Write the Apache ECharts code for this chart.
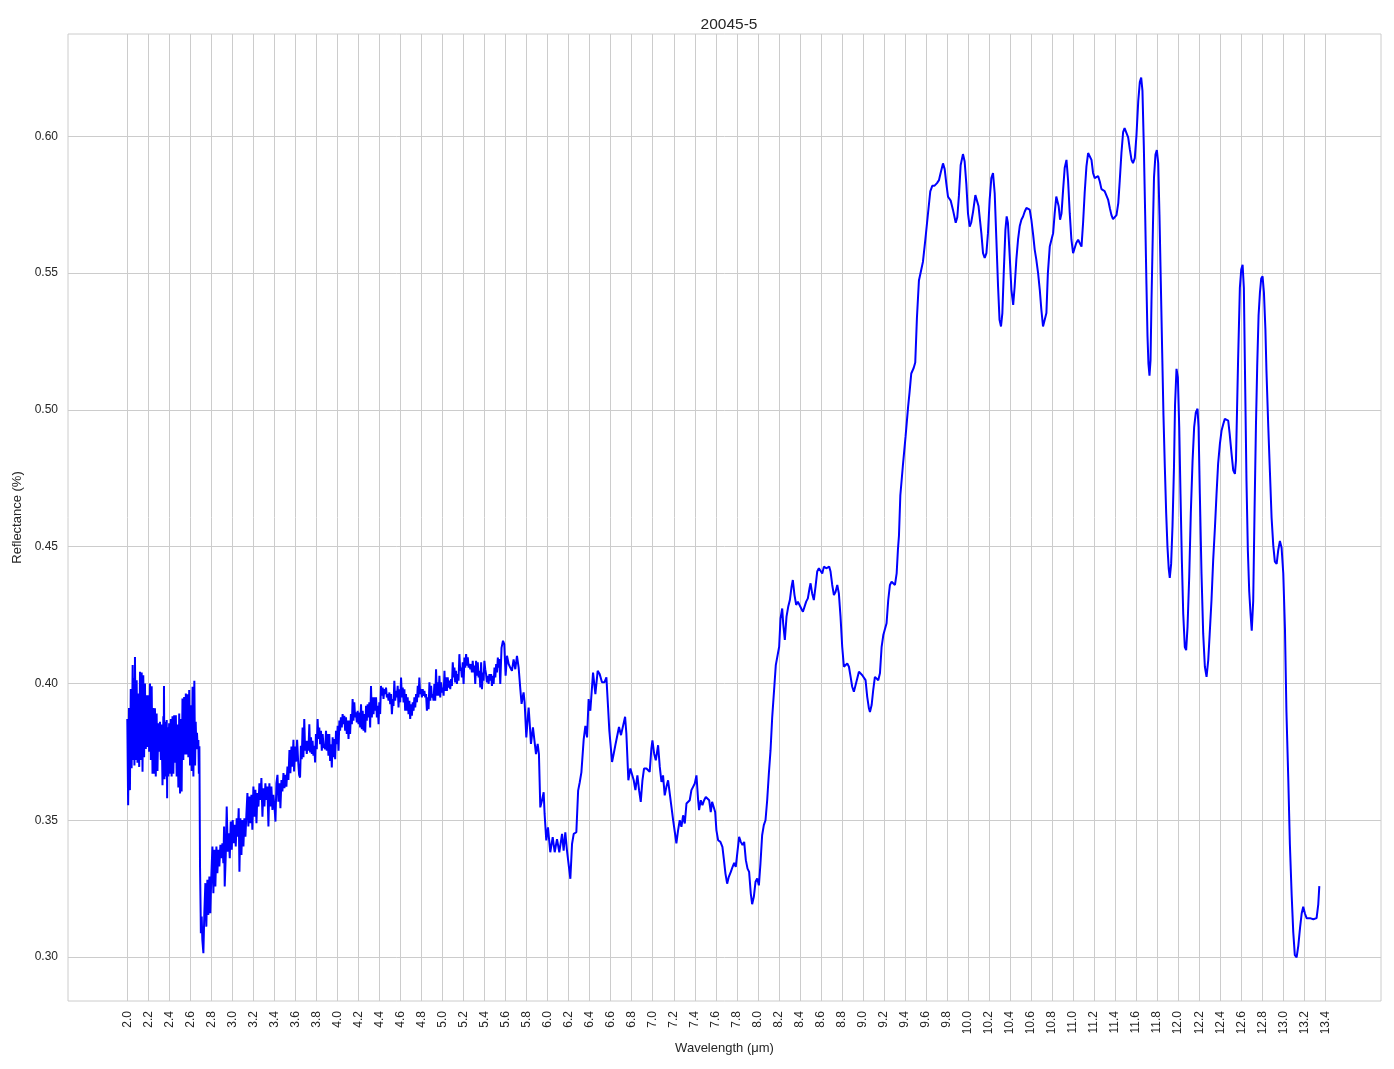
<!DOCTYPE html>
<html>
<head>
<meta charset="utf-8">
<script src="https://cdn.jsdelivr.net/npm/echarts@6/dist/echarts.min.js"></script>
<style>
html,body{margin:0;padding:0;background:#ffffff;}
#chart{width:1394px;height:1069px;}
</style>
</head>
<body>
<div id="chart"></div>
<script>
// ---- data (wavelength µm, reflectance) ----
const segNoisyA = [[2.000,0.387],[2.008,0.3555],[2.016,0.391],[2.025,0.361],[2.033,0.398],[2.041,0.369],[2.051,0.4067],[2.057,0.372],[2.063,0.402],[2.068,0.370],[2.073,0.4097],[2.081,0.372],[2.089,0.4012],[2.097,0.371],[2.105,0.3963],[2.113,0.3695],[2.121,0.4043],[2.129,0.372],[2.137,0.404],[2.145,0.3677],[2.152,0.403],[2.160,0.373],[2.168,0.400],[2.176,0.376],[2.184,0.3957],[2.192,0.3768],[2.200,0.3957],[2.208,0.375],[2.216,0.400],[2.224,0.372],[2.232,0.399],[2.240,0.367],[2.248,0.391],[2.256,0.367],[2.263,0.3909],[2.271,0.366],[2.279,0.389],[2.287,0.368],[2.295,0.3854],[2.303,0.375],[2.311,0.386],[2.319,0.372],[2.327,0.385],[2.335,0.3628],[2.343,0.388],[2.346,0.366],[2.349,0.3991],[2.354,0.365],[2.359,0.386],[2.367,0.366],[2.375,0.3866],[2.379,0.358],[2.383,0.384],[2.390,0.366],[2.398,0.3854],[2.406,0.367],[2.414,0.387],[2.422,0.366],[2.430,0.388],[2.438,0.367],[2.446,0.3884],[2.454,0.371],[2.462,0.3884],[2.470,0.366],[2.478,0.385],[2.486,0.362],[2.494,0.389],[2.502,0.3598],[2.510,0.387],[2.517,0.3605],[2.525,0.3945],[2.533,0.372],[2.541,0.395],[2.549,0.374],[2.557,0.3963],[2.565,0.374],[2.573,0.396],[2.581,0.373],[2.589,0.3976],[2.597,0.370],[2.605,0.392],[2.613,0.368],[2.621,0.3988],[2.629,0.366],[2.638,0.401],[2.645,0.370],[2.651,0.386],[2.657,0.376],[2.663,0.382],[2.670,0.376],[2.676,0.3793],[2.681,0.367],[2.686,0.377]];

const segDropB = [[2.692,0.333],[2.698,0.316],[2.700,0.3087],[2.708,0.3148],[2.714,0.3063],[2.724,0.3014],[2.733,0.316],[2.743,0.327],[2.752,0.3111],[2.762,0.3282],[2.771,0.3154],[2.781,0.3294],[2.790,0.316],[2.800,0.330],[2.810,0.3404],[2.819,0.3233],[2.829,0.3392],[2.838,0.3258],[2.848,0.3404],[2.857,0.3306],[2.867,0.3392],[2.876,0.3331],[2.886,0.341],[2.895,0.3361],[2.905,0.3416],[2.914,0.3343],[2.921,0.3477],[2.927,0.3258],[2.937,0.3373],[2.946,0.355],[2.956,0.3385],[2.965,0.3452],[2.975,0.3361],[2.984,0.3495],[2.994,0.3392],[3.003,0.3501],[3.013,0.3416],[3.022,0.3483],[3.032,0.3404],[3.041,0.3507],[3.051,0.344],[3.060,0.3544],[3.067,0.3312],[3.076,0.3507],[3.086,0.3373],[3.095,0.3501],[3.105,0.3404],[3.114,0.3507],[3.124,0.344],[3.133,0.3519],[3.143,0.3599],[3.152,0.3477],[3.162,0.3587],[3.171,0.3489],[3.181,0.3593],[3.190,0.3465],[3.200,0.3623],[3.210,0.3513],[3.219,0.3611],[3.229,0.3489],[3.238,0.3599],[3.248,0.355],[3.257,0.3635],[3.267,0.3574],[3.276,0.3654],[3.286,0.3513],[3.295,0.3617],[3.305,0.355],[3.314,0.3635],[3.324,0.3574],[3.333,0.3623],[3.343,0.3477],[3.352,0.3635],[3.362,0.355],[3.371,0.3623],[3.381,0.3538],[3.390,0.3593],[3.400,0.355],[3.410,0.3495],[3.419,0.3635],[3.429,0.3666],[3.438,0.3568],[3.448,0.3635],[3.457,0.3544],[3.467,0.3647],[3.476,0.3605],[3.486,0.3672],[3.495,0.3617],[3.505,0.3666],[3.514,0.3623],[3.524,0.3696],[3.533,0.3647],[3.543,0.3757],[3.552,0.3672],[3.562,0.3769],[3.571,0.3696],[3.581,0.3794],[3.587,0.3678],[3.597,0.3769],[3.606,0.3714],[3.616,0.3794],[3.625,0.3721],[3.635,0.3666]];

const segNoisyC = [[3.644,0.3656],[3.652,0.3772],[3.660,0.3723],[3.668,0.3839],[3.676,0.373],[3.684,0.387],[3.692,0.3754],[3.700,0.379],[3.708,0.3742],[3.716,0.379],[3.724,0.3754],[3.732,0.3851],[3.740,0.3748],[3.748,0.3803],[3.756,0.3742],[3.763,0.379],[3.771,0.3736],[3.779,0.3772],[3.787,0.3711],[3.795,0.3815],[3.803,0.376],[3.811,0.387],[3.819,0.3797],[3.827,0.3839],[3.835,0.3778],[3.843,0.3827],[3.851,0.3754],[3.859,0.3815],[3.867,0.3772],[3.875,0.3778],[3.883,0.376],[3.891,0.3827],[3.898,0.3754],[3.906,0.3815],[3.914,0.3736],[3.922,0.3815],[3.930,0.3717],[3.938,0.3778],[3.946,0.3693],[3.954,0.3803],[3.962,0.373],[3.970,0.3797],[3.978,0.3723],[3.986,0.3827],[3.994,0.3778],[4.002,0.3845],[4.010,0.3754],[4.018,0.3864],[4.025,0.3827],[4.033,0.3876],[4.041,0.3839],[4.049,0.3888],[4.057,0.3851],[4.065,0.3882],[4.073,0.3827],[4.081,0.3876],[4.089,0.3815],[4.097,0.3864],[4.105,0.3797],[4.113,0.3864],[4.120,0.3815],[4.128,0.3888],[4.137,0.3851],[4.144,0.3943],[4.152,0.3864],[4.160,0.3931],[4.168,0.3876],[4.176,0.3894],[4.184,0.3858],[4.192,0.3900],[4.200,0.3851],[4.208,0.3894],[4.216,0.3839],[4.224,0.3924],[4.232,0.3833],[4.240,0.3900],[4.248,0.3827],[4.256,0.3888],[4.264,0.3821],[4.272,0.3918],[4.279,0.3864],[4.287,0.3924],[4.295,0.3876],[4.303,0.3931],[4.311,0.3839],[4.319,0.3991],[4.327,0.3876],[4.335,0.3949],[4.343,0.3888],[4.351,0.3949],[4.359,0.3900],[4.367,0.3949],[4.375,0.3876],[4.383,0.3918],[4.391,0.3851],[4.398,0.3931],[4.406,0.3888],[4.414,0.3991],[4.422,0.3955],[4.430,0.3985],[4.438,0.3943],[4.446,0.3979],[4.454,0.3961],[4.462,0.3985],[4.470,0.3949],[4.478,0.3961],[4.486,0.3937],[4.494,0.3967],[4.502,0.3924],[4.510,0.3961],[4.518,0.3888],[4.526,0.3943],[4.533,0.3918],[4.541,0.401],[4.549,0.3937],[4.557,0.3973],[4.565,0.3949],[4.573,0.3991],[4.581,0.3912],[4.589,0.3979],[4.597,0.3931],[4.605,0.4022],[4.613,0.3949],[4.621,0.3985],[4.629,0.3931],[4.637,0.3979],[4.644,0.39],[4.652,0.3961],[4.660,0.39],[4.668,0.3949],[4.676,0.3888],[4.684,0.3937],[4.692,0.387],[4.700,0.3924],[4.708,0.3882],[4.716,0.3931],[4.724,0.39],[4.732,0.3949],[4.740,0.3912],[4.748,0.3961],[4.756,0.3931],[4.764,0.3991],[4.771,0.3949],[4.779,0.4022],[4.787,0.3961],[4.795,0.3979],[4.803,0.3949],[4.811,0.3979],[4.819,0.3955],[4.827,0.3973],[4.835,0.3949],[4.843,0.3961],[4.851,0.39],[4.859,0.3949],[4.867,0.3906],[4.875,0.4004],[4.883,0.3937],[4.891,0.3991],[4.898,0.3949],[4.906,0.3961],[4.914,0.3937],[4.922,0.3998],[4.930,0.3937],[4.938,0.4052],[4.946,0.3955],[4.954,0.4004],[4.962,0.3955],[4.970,0.4028],[4.978,0.3949],[4.986,0.4004],[4.994,0.3967],[5.002,0.3985],[5.010,0.3955],[5.018,0.4046],[5.025,0.3973],[5.033,0.4022],[5.041,0.3973],[5.049,0.4022],[5.057,0.3985],[5.065,0.401],[5.073,0.3979],[5.081,0.4016],[5.089,0.3991],[5.097,0.4077],[5.105,0.4022],[5.113,0.4058],[5.120,0.4004],[5.128,0.4046],[5.137,0.3998],[5.144,0.4034],[5.152,0.401],[5.160,0.4107],[5.168,0.4046],[5.176,0.4058],[5.184,0.4022],[5.192,0.4077],[5.200,0.3998],[5.208,0.4095],[5.216,0.4058],[5.224,0.4107],[5.232,0.4065],[5.240,0.4095],[5.248,0.4058],[5.256,0.4071],[5.264,0.4052],[5.272,0.4071],[5.279,0.404],[5.287,0.4083],[5.295,0.404],[5.303,0.4065],[5.311,0.3998],[5.319,0.4083],[5.327,0.4028],[5.335,0.4077],[5.343,0.4022],[5.351,0.4046],[5.359,0.3985],[5.367,0.4077],[5.375,0.3979],[5.383,0.4040],[5.390,0.401],[5.398,0.4083],[5.406,0.4052],[5.414,0.4034],[5.422,0.4004],[5.430,0.4028],[5.438,0.3998],[5.446,0.4034],[5.454,0.401],[5.462,0.4034],[5.470,0.3991],[5.478,0.4028],[5.486,0.3998],[5.494,0.4058],[5.502,0.4022],[5.510,0.4071],[5.518,0.404],[5.526,0.4095],[5.533,0.4058],[5.541,0.4089],[5.549,0.3998]];

const segMidD = [[5.561,0.4130],[5.575,0.4156],[5.587,0.4144],[5.600,0.4028],[5.613,0.4101],[5.629,0.4071],[5.644,0.4058],[5.660,0.4046],[5.676,0.4088],[5.692,0.4052],[5.708,0.4101],[5.724,0.4058],[5.740,0.3979],[5.752,0.3925],[5.762,0.3950],[5.771,0.3967],[5.781,0.3930],[5.797,0.3803],[5.810,0.3870],[5.819,0.3912],[5.830,0.3850],[5.841,0.3779],[5.860,0.3839],[5.876,0.3839],[5.889,0.3742],[5.905,0.3779],[5.917,0.3742],[5.930,0.3547],[5.946,0.3572],[5.962,0.3602],[5.971,0.3523],[5.987,0.3426],[6.003,0.3474],[6.025,0.3383],[6.048,0.3438],[6.067,0.3383],[6.089,0.3431],[6.111,0.3383],[6.137,0.3450],[6.152,0.3389],[6.168,0.3456],[6.184,0.3389],[6.200,0.3383],[6.216,0.3286],[6.232,0.3413],[6.248,0.3450],[6.273,0.3456],[6.290,0.3608],[6.305,0.3638],[6.321,0.3675],[6.343,0.3796],[6.359,0.3845],[6.375,0.3803],[6.390,0.3943],[6.406,0.3900],[6.432,0.4040],[6.454,0.3961],[6.476,0.4046],[6.495,0.4034],[6.517,0.4004],[6.540,0.4004],[6.559,0.4022],[6.575,0.3912],[6.587,0.3827],[6.613,0.3713],[6.629,0.3744],[6.644,0.3774],[6.660,0.3780],[6.679,0.3841],[6.698,0.3811],[6.717,0.3811],[6.737,0.3878],[6.749,0.3817],[6.768,0.3646],[6.787,0.3689],[6.806,0.3683],[6.819,0.3646],[6.835,0.3610],[6.854,0.3664],[6.870,0.3610],[6.886,0.3567],[6.902,0.3646],[6.917,0.3689],[6.940,0.3689],[6.956,0.3689],[6.971,0.3677],[6.987,0.3762],[6.997,0.3792],[7.013,0.3744],[7.029,0.3719],[7.051,0.3774],[7.067,0.3695],[7.083,0.3640],[7.098,0.3664],[7.114,0.3591],[7.130,0.3622],[7.146,0.3646],[7.162,0.3597],[7.178,0.3549],[7.194,0.3500],[7.210,0.3457],[7.225,0.3415],[7.241,0.3463],[7.257,0.3500],[7.273,0.3476],[7.289,0.3518],[7.305,0.3488],[7.321,0.3561],[7.337,0.3567],[7.352,0.3573],[7.368,0.3610],[7.384,0.3622],[7.400,0.3634],[7.416,0.3664],[7.432,0.3573],[7.441,0.3537],[7.457,0.3573],[7.473,0.3555],[7.489,0.3573],[7.505,0.3585],[7.521,0.3585],[7.537,0.3573],[7.552,0.3530],[7.565,0.3567],[7.581,0.3573],[7.594,0.3530],[7.606,0.3463],[7.622,0.3427],[7.644,0.3421],[7.663,0.3403],[7.676,0.3360],[7.692,0.3305],[7.708,0.3268],[7.724,0.3293],[7.743,0.3311],[7.759,0.3329],[7.775,0.3344],[7.790,0.3329],[7.806,0.3384],[7.822,0.3439],[7.838,0.3421],[7.854,0.3409],[7.870,0.3421],[7.886,0.3354],[7.902,0.3323],[7.917,0.3311],[7.933,0.3232],[7.946,0.3193],[7.962,0.3220],[7.978,0.3275],[7.994,0.3287],[8.010,0.3262],[8.025,0.3342],[8.041,0.3445],[8.057,0.3482],[8.073,0.3500],[8.089,0.3573],[8.105,0.3671],[8.121,0.3756],[8.137,0.3878]];

const segRiseE = [[8.159,0.4000],[8.171,0.4067],[8.190,0.4067],[8.203,0.4134],[8.216,0.4238],[8.232,0.4274],[8.241,0.4220],[8.257,0.4159],[8.273,0.4244],[8.289,0.4280],[8.305,0.4305],[8.321,0.4354],[8.333,0.4378],[8.349,0.4323],[8.365,0.4287],[8.381,0.4299],[8.397,0.4293],[8.413,0.4274],[8.429,0.4262],[8.444,0.4280],[8.460,0.4299],[8.476,0.4311],[8.492,0.4348],[8.502,0.4366],[8.517,0.4329],[8.533,0.4305],[8.549,0.4354],[8.565,0.4409],[8.581,0.4421],[8.597,0.4415],[8.613,0.4402],[8.629,0.4427],[8.638,0.4433],[8.651,0.4421],[8.667,0.4421],[8.679,0.4427],[8.692,0.4409],[8.708,0.4360],[8.724,0.4323],[8.740,0.4335],[8.756,0.4360],[8.771,0.4329],[8.787,0.4244],[8.803,0.4134],[8.819,0.4061],[8.835,0.4055],[8.851,0.4073],[8.867,0.4061],[8.883,0.4024],[8.898,0.3988],[8.914,0.3970],[8.930,0.3976],[8.946,0.4018],[8.962,0.4043],[8.978,0.4043],[8.994,0.4030],[9.010,0.4024],[9.025,0.4012],[9.041,0.3951],[9.057,0.3909],[9.067,0.3896],[9.083,0.3921],[9.098,0.3976],[9.114,0.4024],[9.130,0.4024],[9.146,0.4012],[9.162,0.4037],[9.178,0.4134],[9.194,0.4177],[9.210,0.4183],[9.225,0.4220],[9.241,0.4305],[9.257,0.4360],[9.273,0.4372],[9.289,0.4366],[9.305,0.4360],[9.321,0.4402],[9.333,0.4488],[9.343,0.4540],[9.356,0.4687],[9.380,0.4795],[9.406,0.4903],[9.430,0.5011],[9.444,0.5065],[9.460,0.5133],[9.483,0.5153],[9.498,0.5173],[9.514,0.5337],[9.533,0.5473],[9.552,0.5507],[9.571,0.5541],[9.594,0.5622],[9.619,0.5717],[9.641,0.5799],[9.660,0.5819],[9.680,0.5819],[9.705,0.5829],[9.724,0.5840],[9.740,0.5867],[9.762,0.5901],[9.778,0.5880],[9.794,0.5826],[9.810,0.5779],[9.835,0.5765],[9.857,0.5731],[9.883,0.5684],[9.898,0.5704],[9.914,0.5785],[9.930,0.5894],[9.952,0.5935],[9.968,0.5908],[9.984,0.5826],[10.000,0.5717],[10.016,0.5670],[10.030,0.5684],[10.048,0.5724],[10.070,0.5785],[10.089,0.5792],[10.100,0.5745]];

const segPeaksF = [[10.127,0.5646],[10.143,0.5573],[10.159,0.5555],[10.175,0.5573],[10.190,0.5646],[10.206,0.5768],[10.222,0.5847],[10.238,0.5866],[10.254,0.5792],[10.270,0.5622],[10.286,0.5451],[10.300,0.5329],[10.314,0.5305],[10.327,0.5354],[10.340,0.5500],[10.356,0.5658],[10.368,0.5707],[10.380,0.5683],[10.397,0.5561],[10.413,0.5439],[10.430,0.5384],[10.444,0.5451],[10.460,0.5549],[10.476,0.5622],[10.492,0.5671],[10.508,0.5695],[10.524,0.5707],[10.540,0.5725],[10.556,0.5738],[10.570,0.5744],[10.587,0.5732],[10.603,0.5695],[10.620,0.5640],[10.635,0.5585],[10.650,0.5549],[10.667,0.5500],[10.683,0.5439],[10.698,0.5366],[10.714,0.5305],[10.730,0.5299],[10.746,0.5354],[10.760,0.5500],[10.778,0.5597],[10.794,0.5622],[10.810,0.5646],[10.825,0.5719],[10.840,0.5780],[10.850,0.5786],[10.863,0.5744],[10.876,0.5695],[10.890,0.5719],[10.905,0.5805],[10.920,0.5884],[10.937,0.5914],[10.952,0.5841],[10.968,0.5719],[10.984,0.5622],[11.000,0.5573],[11.016,0.5579],[11.030,0.5610],[11.048,0.5622],[11.063,0.5610],[11.080,0.5597],[11.095,0.5683],[11.110,0.5792],[11.127,0.5890],[11.143,0.5939],[11.160,0.5945],[11.175,0.5914],[11.190,0.5866],[11.206,0.5847],[11.222,0.5853],[11.238,0.5855],[11.254,0.5835],[11.270,0.5807],[11.286,0.5800],[11.300,0.5800],[11.317,0.5794],[11.333,0.5769],[11.350,0.5737],[11.365,0.5712],[11.380,0.5697],[11.397,0.5693],[11.413,0.5712],[11.430,0.5756],[11.444,0.5838],[11.460,0.5939],[11.476,0.6015],[11.490,0.6030],[11.508,0.6028],[11.524,0.5996],[11.540,0.5952],[11.556,0.5914],[11.570,0.5902],[11.587,0.5920],[11.603,0.6003],[11.620,0.6129],[11.635,0.6198],[11.648,0.6215],[11.660,0.6167],[11.673,0.5965],[11.686,0.5712],[11.698,0.5460],[11.708,0.5270],[11.717,0.5169],[11.727,0.5125],[11.737,0.5182],[11.746,0.5397],[11.760,0.5674],[11.770,0.5851],[11.784,0.5933],[11.797,0.5950],[11.810,0.5902],[11.822,0.5712],[11.835,0.5460],[11.848,0.5207],[11.860,0.4980],[11.873,0.4790],[11.886,0.4620],[11.898,0.4500],[11.910,0.4420],[11.920,0.4386],[11.933,0.4437],[11.946,0.4576],[11.960,0.4790],[11.970,0.5018],[11.984,0.5150],[11.997,0.5119]];

const segTailG = [[12.010,0.4937],[12.022,0.4693],[12.035,0.4450],[12.048,0.4255],[12.063,0.4133],[12.076,0.4122],[12.089,0.4207],[12.105,0.4390],[12.120,0.4620],[12.137,0.4815],[12.152,0.4937],[12.168,0.4991],[12.184,0.5004],[12.194,0.4937],[12.206,0.4693],[12.222,0.4401],[12.238,0.4182],[12.254,0.4061],[12.270,0.4024],[12.286,0.4085],[12.300,0.4182],[12.317,0.4304],[12.333,0.4450],[12.350,0.4572],[12.365,0.4693],[12.380,0.4803],[12.397,0.4876],[12.413,0.4925],[12.430,0.4949],[12.444,0.4967],[12.460,0.4973],[12.476,0.4961],[12.490,0.4912],[12.508,0.4839],[12.524,0.4779],[12.540,0.4766],[12.550,0.4815],[12.560,0.4998],[12.570,0.5180],[12.587,0.5446],[12.600,0.5513],[12.613,0.5530],[12.625,0.5446],[12.638,0.5076],[12.650,0.4740],[12.663,0.4487],[12.676,0.4336],[12.689,0.4252],[12.700,0.4193],[12.714,0.4302],[12.727,0.4639],[12.740,0.4942],[12.752,0.5160],[12.765,0.5345],[12.778,0.5429],[12.790,0.5480],[12.803,0.5488],[12.816,0.5429],[12.830,0.5295],[12.840,0.5143],[12.857,0.4942],[12.873,0.4773],[12.889,0.4605],[12.905,0.4504],[12.920,0.4445],[12.937,0.4437],[12.952,0.4487],[12.968,0.4521],[12.984,0.4496],[13.000,0.4403],[13.016,0.4201],[13.030,0.3899],[13.048,0.3646],[13.063,0.3411],[13.080,0.3226],[13.095,0.3091],[13.110,0.3007],[13.127,0.2999],[13.143,0.3041],[13.160,0.3108],[13.175,0.3159],[13.190,0.3184],[13.206,0.3159],[13.222,0.3142],[13.238,0.3145],[13.254,0.3142],[13.270,0.3145],[13.286,0.3138],[13.300,0.3133],[13.317,0.3142],[13.333,0.3192],[13.343,0.3259]];

const xTicks = [2.0,2.2,2.4,2.6,2.8,3.0,3.2,3.4,3.6,3.8,4.0,4.2,4.4,4.6,4.8,5.0,5.2,5.4,5.6,5.8,6.0,6.2,6.4,6.6,6.8,7.0,7.2,7.4,7.6,7.8,8.0,8.2,8.4,8.6,8.8,9.0,9.2,9.4,9.6,9.8,10.0,10.2,10.4,10.6,10.8,11.0,11.2,11.4,11.6,11.8,12.0,12.2,12.4,12.6,12.8,13.0,13.2,13.4];
const yTicks = [0.30,0.35,0.40,0.45,0.50,0.55,0.60];

const titleText = '20045-5';
const xName = 'Wavelength (μm)';
const yName = 'Reflectance (%)';

const seriesData = [].concat(segNoisyA, segDropB, segNoisyC, segMidD, segRiseE, segPeaksF, segTailG);

const txt = '#262626';
const font = '"Liberation Sans", Arial, sans-serif';
const chart = echarts.init(document.getElementById('chart'), null, {renderer: 'canvas'});
chart.setOption({
  animation: false,
  backgroundColor: '#ffffff',
  title: {
    text: titleText, left: 724, top: 12, textAlign: 'center',
    textStyle: {fontFamily: font, fontSize: 15.5, fontWeight: 'normal', color: txt}
  },
  grid: {left: 68, right: 13, top: 34, bottom: 68, show: true, borderColor: '#cccccc', borderWidth: 1},
  xAxis: {
    type: 'value', min: 1.4357, max: 13.93,
    name: xName, nameLocation: 'middle', nameGap: 40,
    nameTextStyle: {fontFamily: font, fontSize: 13, color: txt},
    axisLine: {show: false},
    axisTick: {show: false, customValues: xTicks},
    axisLabel: {customValues: xTicks, rotate: 90, margin: 10, fontFamily: font, fontSize: 12, color: txt,
      formatter: v => Number(v).toFixed(1)},
    splitLine: {show: true, lineStyle: {color: '#cccccc', width: 1}}
  },
  yAxis: {
    type: 'value', min: 0.28392, max: 0.6374,
    name: yName, nameLocation: 'middle', nameGap: 44,
    nameTextStyle: {fontFamily: font, fontSize: 13, color: txt},
    axisLine: {show: false},
    axisTick: {show: false, customValues: yTicks},
    axisLabel: {customValues: yTicks, margin: 10, fontFamily: font, fontSize: 12, color: txt,
      formatter: v => Number(v).toFixed(2)},
    splitLine: {show: true, lineStyle: {color: '#cccccc', width: 1}}
  },
  series: [{
    type: 'line', data: seriesData, showSymbol: false, symbol: 'none',
    sampling: null, smooth: false,
    lineStyle: {color: '#0000ff', width: 2}
  }]
});
</script>
</body>
</html>
